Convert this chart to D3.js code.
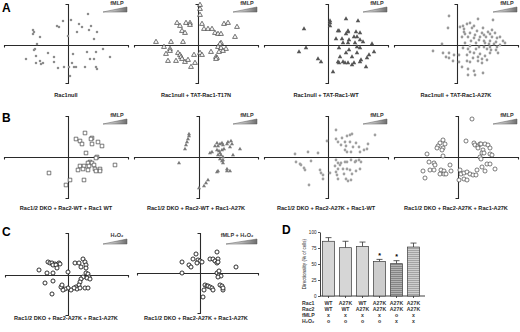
<!DOCTYPE html>
<html>
<head>
<meta charset="utf-8">
<script src="https://cdn.jsdelivr.net/npm/d3@7"></script>
<style>
  html, body { margin: 0; padding: 0; background: #fff; }
  svg { display: block; }
</style>
</head>
<body>
<div id="chart"></div>
<script>
(function () {
'use strict';
// Directional migration plots (A-C) + directionality bar chart (D)

// ---- scatter data: cell end points, [dx, dy] relative to start (um, up = +)
const a1Pts = [[20,31],[-5,24],[3,25],[11,21],[-11,19],[-9,18],[23,19],[14,18],[-35,15],[-34,13],[21,15],[29,13],[9,13],[-35,11],[0,9],[-28,8],[26,6],[-31,1],[35,-4],[-33,-4],[-34,-5],[28,-7],[-20,-8],[19,-7],[5,-9],[-32,-11],[-14,-12],[42,-12],[-42,-14],[22,-14],[26,-14],[-28,-16],[-14,-17],[-25,-18],[-27,-19],[4,-18],[-32,-18],[-4,-22],[1,-22],[-10,-23],[6,-22],[8,-22],[17,-22],[28,-22],[29,-24],[2,-31]];
const a2Pts = [[2,40],[2,36],[2,30],[-21,22],[-12,22],[-8,22],[-18,19],[-8,20],[4,21],[26,21],[30,22],[39,18],[-16,14],[-13,12],[6,16],[10,16],[14,16],[17,12],[20,11],[23,11],[37,8],[-42,3],[-27,3],[-15,3],[23,2],[22,1],[-34,-2],[-28,-4],[-28,-6],[20,-2],[23,-3],[28,-4],[25,-6],[-20,-8],[-32,-9],[-18,-10],[-17,-12],[-4,-10],[2,-8],[4,-10],[13,-7],[21,-7],[18,-12],[19,-13],[18,-14],[-16,-14],[-13,-17],[-10,-15],[-22,-16],[-30,-16],[-7,-22],[-3,-18]];
const a3Pts = [[2,24],[2,22],[2,19],[18,26],[30,24],[-24,16],[10,14],[11,14],[20,14],[20,13],[28,13],[32,12],[18,11],[26,8],[29,8],[14,6],[8,6],[21,5],[32,5],[35,3],[20,2],[27,2],[15,2],[44,1],[-22,-3],[-29,-7],[11,-3],[29,-2],[32,-3],[46,-7],[21,-5],[18,-8],[29,-8],[41,-10],[39,-13],[-10,-14],[-7,-17],[24,-12],[33,-15],[32,-17],[10,-17],[11,-18],[15,-17],[17,-18],[20,-18],[24,-20],[26,-18],[38,-22],[5,-27],[12,-12]];
const a4Pts = [[-8,29],[21,26],[36,25],[-9,17],[6,19],[10,21],[13,22],[17,19],[3,18],[7,16],[15,17],[26,17],[20,14],[7,13],[13,12],[25,12],[31,13],[35,15],[8,11],[18,10],[27,10],[33,11],[38,12],[43,8],[5,8],[11,8],[17,7],[23,8],[29,8],[35,8],[40,7],[46,4],[14,4],[22,5],[27,4],[33,4],[39,3],[8,2],[19,2],[28,2],[32,1],[37,1],[43,0],[48,2],[-15,1],[-24,-6],[13,-1],[22,-2],[27,-2],[33,-2],[40,-2],[6,-3],[11,-4],[19,-4],[30,-4],[34,-5],[39,-5],[-14,-8],[-8,-8],[-3,-10],[13,-7],[17,-8],[23,-9],[33,-8],[41,-8],[-11,-12],[-8,-13],[2,-10],[10,-10],[21,-12],[28,-11],[16,-13],[25,-14],[-4,-16],[2,-17],[10,-16],[13,-17],[21,-16],[5,-22],[11,-24],[17,-26],[26,-28],[11,-30],[18,-30],[25,-18],[30,-15]];
const b1Pts = [[17,24],[24,19],[23,18],[8,18],[12,16],[14,13],[24,13],[30,15],[34,11],[18,4],[29,0],[28,-1],[22,-5],[20,-6],[24,-6],[12,-9],[16,-9],[21,-9],[26,-8],[10,-13],[15,-12],[20,-13],[27,-12],[32,-12],[32,-14],[28,-14],[47,-8],[-19,-16],[2,-23],[16,-23],[-2,-28]];
const b2Pts = [[-10,23],[-10,21],[-11,18],[-12,15],[-13,12],[-14,8],[18,14],[21,13],[23,14],[28,13],[29,15],[32,16],[33,13],[16,11],[19,11],[24,12],[13,5],[11,4],[18,7],[20,6],[23,7],[25,8],[31,10],[41,8],[19,2],[22,2],[24,0],[34,2],[21,-2],[24,-3],[23,-4],[24,-6],[-20,-6],[19,-14],[18,-15],[28,-12],[28,-14],[31,-14],[9,-23],[7,-26],[5,-29],[0,-31],[21,4]];
const b3Pts = [[8,27],[-1,16],[8,18],[14,19],[19,21],[22,22],[24,23],[47,22],[10,15],[17,15],[22,15],[28,14],[40,13],[13,12],[18,11],[25,10],[31,10],[17,7],[19,5],[23,5],[32,5],[36,7],[39,8],[-33,3],[-20,5],[-10,4],[-32,-5],[-28,-7],[-27,-8],[-24,-11],[-23,-13],[-17,-4],[-8,-13],[-7,-16],[-5,-18],[-5,-22],[-19,-28],[2,-16],[8,-15],[10,-12],[9,-18],[10,-22],[15,-12],[19,-12],[22,-13],[24,-17],[16,-17],[18,-22],[20,-24],[23,-23],[28,-14],[32,-12],[31,-3],[28,-4],[27,-5],[19,-5],[17,-5],[13,-6],[10,-6],[8,-3],[7,-9],[12,-8],[33,-5],[23,-3]];
const b4Pts = [[14,38],[-15,17],[-13,13],[-18,14],[-20,11],[-21,9],[-15,9],[-16,7],[-31,3],[-15,1],[8,16],[16,14],[17,12],[20,11],[22,13],[23,13],[27,13],[30,12],[20,9],[25,7],[32,9],[24,4],[26,4],[32,3],[34,2],[22,0],[23,-2],[29,-7],[32,-7],[-29,-5],[-24,-6],[-23,-8],[-35,-14],[-28,-13],[-24,-13],[-33,-21],[-17,-13],[-14,-14],[-18,-17],[-14,-17],[-12,-17],[-8,-8],[-7,-14],[2,-13],[3,-17],[6,-16],[9,-15],[12,-17],[1,-23],[6,-22],[9,-23],[15,-18],[18,-18],[19,-13],[37,-12],[27,-14],[24,-10]];
const c1Pts = [[-20,13],[-18,12],[-16,12],[-13,11],[-9,12],[-8,11],[-15,10],[-12,10],[-11,7],[-29,5],[-21,2],[-15,2],[0,3],[7,12],[11,12],[15,16],[17,13],[18,10],[13,8],[18,7],[18,2],[20,1],[21,-2],[19,-3],[22,-4],[15,-2],[13,-4],[12,-7],[11,-10],[8,-12],[9,-14],[6,-13],[3,-15],[0,-13],[-3,-14],[-5,-15],[-7,-12],[-6,-10],[-15,-6],[-23,-8],[-16,-19],[17,-13],[20,-13],[12,-13]];
const c2Pts = [[-4,19],[-7,14],[-2,13],[0,12],[-3,10],[2,11],[-11,8],[-9,6],[-18,11],[-18,0],[10,14],[13,14],[17,21],[18,14],[15,12],[17,10],[18,11],[36,6],[17,0],[19,-2],[21,-3],[18,-4],[5,-12],[7,-13],[8,-13],[10,-14],[12,-15],[13,-17],[20,-12],[22,-13],[23,-17],[23,-15],[4,-17],[3,-24],[19,2]];

// ---- panel D data
const dCategories = ["g1","g2","g3","g4","g5","g6"];
const dMeans  = [85.5, 75.5, 77.5, 54, 50.5, 76.5];
const dErrors = [5.7, 10, 6.8, 3.2, 4.7, 6.2];
const dStars  = [false, false, false, true, true, false];
const dTicks  = [0, 25, 50, 75, 100];
const rowNames = ["Rac1", "Rac2", "fMLP", "H\u2082O\u2082"];
const rac1Row = ["WT", "A27K", "WT", "A27K", "A27K", "A27K"];
const rac2Row = ["WT", "WT", "A27K", "A27K", "A27K", "A27K"];
const fmlpRow = ["x", "x", "x", "x", "o", "x"];
const h2o2Row = ["o", "o", "o", "o", "x", "x"];

const FONT = "'Liberation Sans', Arial, Helvetica, sans-serif";
const AXIS = "#2a2a2a";

const W = 520, H = 332;
const svg = d3.select("#chart").append("svg")
  .attr("width", W).attr("height", H)
  .attr("viewBox", `0 0 ${W} ${H}`);

const defs = svg.append("defs");
const grad = defs.append("linearGradient").attr("id", "wedge")
  .attr("x1", "0%").attr("x2", "100%").attr("y1", "0%").attr("y2", "0%");
grad.append("stop").attr("offset", "0%").attr("stop-color", "#ffffff");
grad.append("stop").attr("offset", "100%").attr("stop-color", "#6e6e6e");

function stripes(id, bg, line) {
  const p = defs.append("pattern").attr("id", id)
    .attr("patternUnits", "userSpaceOnUse").attr("width", 4).attr("height", 2);
  p.append("rect").attr("width", 4).attr("height", 2).attr("fill", bg);
  p.append("rect").attr("width", 4).attr("height", 0.8).attr("fill", line);
}
stripes("stripeDark", "#b2b2b2", "#7a7a7a");
stripes("stripeLight", "#cfcfcf", "#9a9a9a");

// marker styles
const MARK = {
  sqFill:   { type: d3.symbolSquare,   size: 5,  fill: "#8c8c8c", stroke: "none", sw: 0 },
  triOpen:  { type: d3.symbolTriangle, size: 10, fill: "#fff",    stroke: "#333", sw: 0.7 },
  triFill:  { type: d3.symbolTriangle, size: 9,  fill: "#555",    stroke: "none", sw: 0 },
  dotGray:  { type: d3.symbolCircle,   size: 6,  fill: "#9a9a9a", stroke: "none", sw: 0 },
  sqOpen:   { type: d3.symbolSquare,   size: 13, fill: "#fff",    stroke: "#444", sw: 0.7 },
  triGray:  { type: d3.symbolTriangle, size: 7,  fill: "#7a7a7a", stroke: "none", sw: 0 },
  dotGray2: { type: d3.symbolCircle,   size: 6,  fill: "#a0a0a0", stroke: "none", sw: 0 },
  circOpen: { type: d3.symbolCircle,   size: 13, fill: "#fff",    stroke: "#444", sw: 0.7 },
  circBold: { type: d3.symbolCircle,   size: 13, fill: "#fff",    stroke: "#1a1a1a", sw: 0.9 }
};

// panel layouts (local coords inside each 130px cell)
const panels = [
  { x: 0,   y: 0,   cx: 68, cy: 45, yTop: 4,  yBot: 83, xL: 4, xR: 128, pts: a1Pts, mark: "sqFill",  stim: "fMLP", labY: 97,  label: "Rac1null", letter: "A" },
  { x: 130, y: 0,   cx: 68, cy: 45, yTop: 4,  yBot: 83, xL: 4, xR: 128, pts: a2Pts, mark: "triOpen", stim: "fMLP", labY: 97,  label: "Rac1null + TAT-Rac1-T17N" },
  { x: 260, y: 0,   cx: 68, cy: 45, yTop: 4,  yBot: 83, xL: 4, xR: 128, pts: a3Pts, mark: "triFill", stim: "fMLP", labY: 97,  label: "Rac1null + TAT-Rac1-WT" },
  { x: 390, y: 0,   cx: 67, cy: 45, yTop: 4,  yBot: 83, xL: 4, xR: 128, pts: a4Pts, mark: "dotGray", stim: "fMLP", labY: 97,  label: "Rac1null + TAT-Rac1-A27K" },
  { x: 0,   y: 110, cx: 68, cy: 47, yTop: 6,  yBot: 88, xL: 4, xR: 128, pts: b1Pts, mark: "sqOpen",  stim: "fMLP", labY: 100, label: "Rac1/2 DKO + Rac2-WT + Rac1 WT", letter: "B" },
  { x: 130, y: 110, cx: 69, cy: 47, yTop: 6,  yBot: 88, xL: 4, xR: 128, pts: b2Pts, mark: "triGray", stim: "fMLP", labY: 100, label: "Rac1/2 DKO + Rac2-WT + Rac1-A27K" },
  { x: 260, y: 110, cx: 68, cy: 47, yTop: 6,  yBot: 88, xL: 4, xR: 128, pts: b3Pts, mark: "dotGray2", stim: "fMLP", labY: 100, label: "Rac1/2 DKO + Rac2-A27K + Rac1-WT" },
  { x: 390, y: 110, cx: 68, cy: 47, yTop: 6,  yBot: 88, xL: 4, xR: 128, pts: b4Pts, mark: "circOpen", stim: "fMLP", labY: 100, label: "Rac1/2 DKO + Rac2-A27K + Rac1-A27K" },
  { x: 0,   y: 220, cx: 68, cy: 55, yTop: 13, yBot: 95, xL: 5, xR: 128, pts: c1Pts, mark: "circBold", stim: "H2O2", stimY: 17, labY: 100, label: "Rac1/2 DKO + Rac2-A27K + Rac1-A27K", letter: "C" },
  { x: 130, y: 220, cx: 70, cy: 53, yTop: 13, yBot: 93, xL: 7, xR: 128, pts: c2Pts, mark: "circBold", stim: "fMLP + H2O2", stimY: 17, labY: 100, label: "Rac1/2 DKO + Rac2-A27K + Rac1-A27K" }
];

panels.forEach(p => {
  const g = svg.append("g").attr("transform", `translate(${p.x},${p.y})`);
  const x = d3.scaleLinear().domain([-1, 1]).range([p.cx - 1, p.cx + 1]);
  const y = d3.scaleLinear().domain([-1, 1]).range([p.cy + 1, p.cy - 1]);

  // axes through the origin, with short end ticks
  g.append("g").attr("transform", `translate(0,${p.cy})`)
    .call(d3.axisBottom(x.copy().domain([p.xL - p.cx, p.xR - p.cx]).range([p.xL, p.xR]))
      .tickValues([]).tickSizeOuter(2.5))
    .call(s => s.select(".domain").attr("stroke", AXIS).attr("stroke-width", 1.1));
  g.append("g").attr("transform", `translate(${p.cx},0)`)
    .call(d3.axisLeft(y.copy().domain([p.cy - p.yBot, p.cy - p.yTop]).range([p.yBot, p.yTop]))
      .tickValues([]).tickSizeOuter(2.5))
    .call(s => s.select(".domain").attr("stroke", AXIS).attr("stroke-width", 1.1));

  const m = MARK[p.mark];
  g.selectAll("path.pt").data(p.pts).join("path")
    .attr("class", "pt")
    .attr("transform", d => `translate(${x(d[0])},${y(d[1])})`)
    .attr("d", d3.symbol().type(m.type).size(m.size))
    .attr("fill", m.fill)
    .attr("stroke", m.stroke)
    .attr("stroke-width", m.sw);

  // stimulus label + gradient wedge
  const sy = p.stimY || (p.y === 110 ? 7 : 5);
  const stimLbl = p.stim === "H2O2" ? "H\u2082O\u2082" : (p.stim === "fMLP + H2O2" ? "fMLP + H\u2082O\u2082" : p.stim);
  g.append("text")
    .attr("x", p.stim === "fMLP + H2O2" ? 107 : 117).attr("y", sy)
    .attr("text-anchor", "middle")
    .attr("font-family", FONT).attr("font-size", 5.5).attr("font-weight", "bold")
    .attr("fill", "#333")
    .text(stimLbl);
  const wx0 = p.stim === "fMLP + H2O2" ? 96 : 103, wx1 = 127;
  const wy1 = sy + 7, wy0 = sy + 2;
  g.append("path")
    .attr("d", `M${wx0},${wy1}L${wx1},${wy1}L${wx1},${wy0}Z`)
    .attr("fill", "url(#wedge)").attr("stroke", "#555").attr("stroke-width", 0.5);

  g.append("text")
    .attr("x", 66).attr("y", p.labY)
    .attr("text-anchor", "middle")
    .attr("font-family", FONT).attr("font-size", 5.6).attr("font-weight", "bold")
    .attr("fill", "#222")
    .text(p.label);

  if (p.letter) {
    g.append("text")
      .attr("x", 2).attr("y", p.letter === "C" ? 16 : 12)
      .attr("font-family", FONT).attr("font-size", 12).attr("font-weight", "bold")
      .attr("fill", "#000")
      .text(p.letter);
  }
});

// ---- panel D: bar chart
const dG = svg.append("g");
dG.append("text").attr("x", 282).attr("y", 234)
  .attr("font-family", FONT).attr("font-size", 12).attr("font-weight", "bold")
  .text("D");

const xb = d3.scaleBand().domain(dCategories).range([320, 422]).paddingInner(0.3).paddingOuter(0.15);
const yb = d3.scaleLinear().domain([0, 100]).range([296, 232]);
const fills = ["#d6d6d6", "#d6d6d6", "#d6d6d6", "#cdcdcd", "url(#stripeDark)", "url(#stripeLight)"];

dG.append("g").attr("transform", "translate(320,0)")
  .call(d3.axisLeft(yb).tickValues(dTicks).tickSize(2).tickSizeOuter(0).tickPadding(1.5))
  .call(s => {
    s.select(".domain").attr("stroke", AXIS).attr("stroke-width", 0.9);
    s.selectAll(".tick line").attr("stroke", AXIS).attr("stroke-width", 0.8);
    s.selectAll("text").attr("font-family", FONT).attr("font-size", 4.6).attr("fill", "#222");
  });

dG.append("g").attr("transform", "translate(0,296)")
  .call(d3.axisBottom(xb).tickSize(2).tickSizeOuter(0).tickFormat(""))
  .call(s => {
    s.select(".domain").attr("stroke", AXIS).attr("stroke-width", 0.9).attr("d", "M320,0H425");
    s.selectAll(".tick line").attr("stroke", AXIS).attr("stroke-width", 0.8);
  });

dG.append("text")
  .attr("transform", `translate(306,${yb(50)}) rotate(-90)`)
  .attr("text-anchor", "middle")
  .attr("font-family", FONT).attr("font-size", 4.6).attr("fill", "#222")
  .text("Directionality (% of cells)");

const barData = dCategories.map((c, i) => ({ c, v: dMeans[i], e: dErrors[i], star: dStars[i], f: fills[i] }));

// error bars (upper half only)
dG.selectAll("line.err").data(barData).join("line")
  .attr("class", "err")
  .attr("x1", d => xb(d.c) + xb.bandwidth() / 2).attr("x2", d => xb(d.c) + xb.bandwidth() / 2)
  .attr("y1", d => yb(d.v)).attr("y2", d => yb(d.v + d.e))
  .attr("stroke", "#333").attr("stroke-width", 0.8);
dG.selectAll("line.cap").data(barData).join("line")
  .attr("class", "cap")
  .attr("x1", d => xb(d.c) + xb.bandwidth() / 2 - 3).attr("x2", d => xb(d.c) + xb.bandwidth() / 2 + 3)
  .attr("y1", d => yb(d.v + d.e)).attr("y2", d => yb(d.v + d.e))
  .attr("stroke", "#333").attr("stroke-width", 0.8);

dG.selectAll("rect.bar").data(barData).join("rect")
  .attr("class", "bar")
  .attr("x", d => xb(d.c)).attr("width", xb.bandwidth())
  .attr("y", d => yb(d.v)).attr("height", d => yb(0) - yb(d.v))
  .attr("fill", d => d.f).attr("stroke", "#3a3a3a").attr("stroke-width", 0.7);

dG.selectAll("text.star").data(barData.filter(d => d.star)).join("text")
  .attr("class", "star")
  .attr("x", d => xb(d.c) + xb.bandwidth() / 2).attr("y", d => yb(d.v + d.e) - 1.5)
  .attr("text-anchor", "middle")
  .attr("font-family", FONT).attr("font-size", 7).attr("font-weight", "bold")
  .text("*");

// condition table under the bars
const tableRows = [rac1Row, rac2Row, fmlpRow, h2o2Row];
const rowY = [305, 311, 317, 323];
tableRows.forEach((row, r) => {
  dG.append("text").attr("x", 302).attr("y", rowY[r])
    .attr("font-family", FONT).attr("font-size", 5.2).attr("font-weight", "bold")
    .attr("fill", "#333")
    .text(rowNames[r]);
  dG.selectAll(`text.row${r}`).data(row).join("text")
    .attr("class", `row${r}`)
    .attr("x", (d, i) => xb(dCategories[i]) + xb.bandwidth() / 2)
    .attr("y", rowY[r])
    .attr("text-anchor", "middle")
    .attr("font-family", FONT).attr("font-size", 5.2).attr("font-weight", "bold")
    .attr("fill", "#333")
    .text(d => d);
});
})();
</script>
</body>
</html>
